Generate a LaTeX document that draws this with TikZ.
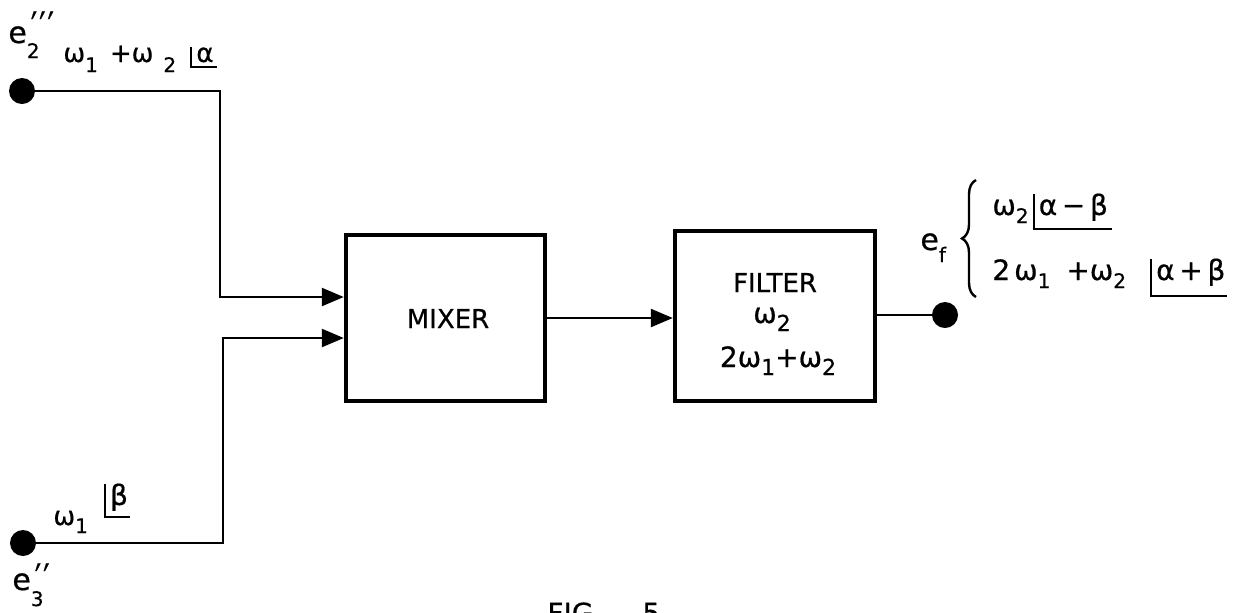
\documentclass[tikz,border=0pt]{standalone}
\usepackage{fontspec}
\setmainfont{DejaVu Sans}[FakeBold=0.6]
\usetikzlibrary{arrows.meta,decorations.pathreplacing}
\newcommand\phasor[2][3pt]{\setbox0\hbox{\kern2pt#2\kern1pt}\rlap{\rule[-#1]{\dimexpr\wd0+1pt\relax}{1.1pt}}\rule[-#1]{1.1pt}{\dimexpr\ht0+#1\relax}\box0}
\newcommand\fs[1]{\fontsize{#1}{#1}\selectfont}
\newcommand\pr{\scalebox{1}[1.5]{′}}
\begin{document}
\begin{tikzpicture}[x=0.5pt,y=-0.5pt,
  wire/.style={line width=1.2pt},
  arr/.style={wire,-{Triangle[length=11pt,width=9pt]}},
  blk/.style={draw,line width=2.2pt,inner sep=0pt},
  dot/.style={circle,fill,inner sep=0pt,minimum size=13pt},
  lab/.style={inner sep=0pt,anchor=base west,font=\fs{13}},
  boxtxt/.style={inner sep=0pt,anchor=base,font=\fs{13}}]
\useasboundingbox (0,0) rectangle (1245,612);
% blocks
\node[blk,minimum width=99.5pt,minimum height=83pt] (mixer) at (445.5,318) {};
\node[boxtxt] (mixtxt) at (448,328) {MIXER};
\node[blk,minimum width=100pt,minimum height=85pt] (filter) at (775,316) {};
\node[boxtxt] (ft1) at (775,292) {FILTER};
\node[boxtxt,font=\fs{14}] (ft2) at (772,323) {ω\raisebox{-4pt}{\fs{11}2}};
\node[boxtxt,font=\fs{14}] (ft3) at (778,367) {2ω\raisebox{-4pt}{\fs{11}1}+ω\raisebox{-4pt}{\fs{11}2}};
% terminals
\node[dot] (d1) at (22,91) {};
\node[dot] (d2) at (23,543) {};
\node[dot] (dout) at (945,315) {};
\coordinate (k1) at (220,297);
\coordinate (k2) at (223,338);
% wires
\draw[arr] (d1) -| (k1) -- (mixer.west |- k1);
\draw[arr] (d2) -| (k2) -- (mixer.west |- k2);
\draw[arr] (mixer.east) -- (filter.west |- mixer.east);
\draw[wire] (filter.east |- dout) -- (dout);
% labels
\node[lab,font=\fs{15}] (e2) at (8,43) {e\rlap{\raisebox{-7.5pt}{\fs{10}2}}\kern2pt\raisebox{0.5pt}{\fs{14}\pr\kern1pt\pr\kern1pt\pr}};
\node[lab] (top) at (63,62) {ω\raisebox{-5pt}{\fs{10}1}\hspace{6pt}+ω\hspace{5pt}\raisebox{-5pt}{\fs{10}2}\hspace{7pt}\phasor[3pt]{α\kern1pt}};
\node[lab] (bot) at (53,525) {ω\raisebox{-4pt}{\fs{10}1}\hspace{8pt}\raisebox{10pt}{\phasor[6.5pt]{\fs{14}β}}};
\node[lab,font=\fs{15}] (e3) at (12,590) {e\rlap{\raisebox{-8pt}{\fs{10}3}}\kern2pt\raisebox{-2pt}{\fs{14}\pr\kern1pt\pr}};
\node[lab,font=\fs{15}] (ef) at (920,250) {e\raisebox{-6pt}{\fs{10}f}};
\draw[wire,decorate,decoration={brace,amplitude=7pt}] (976,297) -- (976,180);
\node[lab,font=\fs{14}] (l1) at (992,215) {ω\raisebox{-4pt}{\fs{10}2}\hspace{2pt}\phasor[7.5pt]{α\,−\,β\kern1pt}};
\node[lab,font=\fs{14}] (l2) at (992,280) {2\hspace{2pt}ω\raisebox{-4pt}{\fs{10}1}\hspace{8pt}+ω\raisebox{-4pt}{\fs{10}2}\hspace{12pt}\phasor[8.5pt]{α\,+\,β}};
\node[inner sep=0pt,anchor=north west,font=\fs{14}] (fig) at (547,602) {FIG.\hspace{20pt}5};
\end{tikzpicture}
\end{document}
